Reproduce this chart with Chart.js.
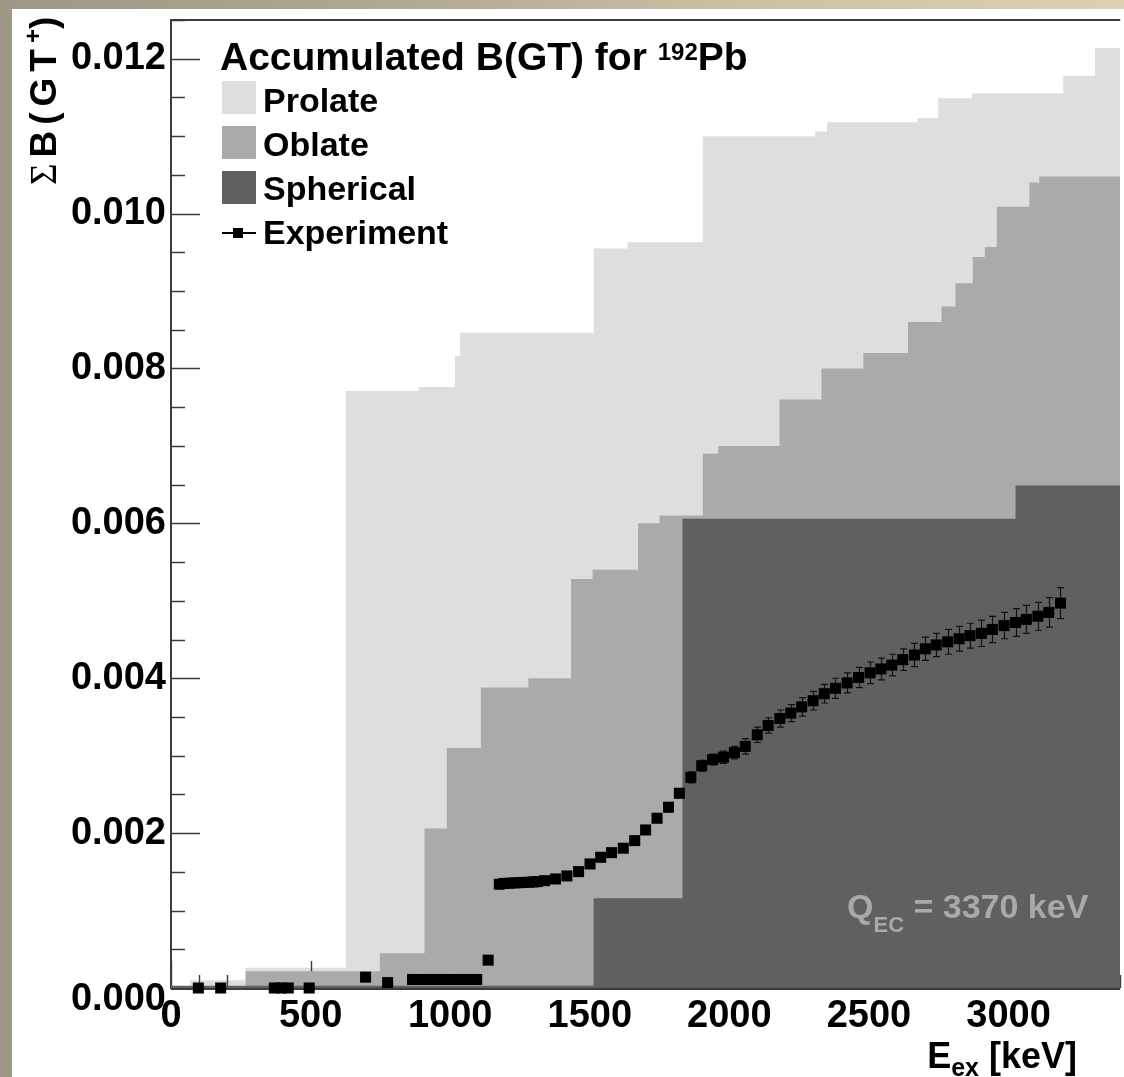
<!DOCTYPE html>
<html>
<head>
<meta charset="utf-8">
<title>Accumulated B(GT) for 192Pb</title>
<script src="https://cdn.jsdelivr.net/npm/chart.js@4.4.1/dist/chart.umd.min.js"></script>
<style>
  html, body { margin: 0; padding: 0; overflow: hidden; }
  body {
    width: 1124px; height: 1077px; position: relative;
    background: #9d9886;
    font-family: "Liberation Sans", Arial, Helvetica, sans-serif;
    font-weight: bold; color: #000;
  }
  #topband {
    position: absolute; left: 0; top: 0; width: 1124px; height: 9px;
    background: linear-gradient(90deg, #9c9786 0%, #b1a893 35%, #cfc3a7 70%, #ddd0b4 100%);
  }
  #panel { position: absolute; left: 12px; top: 9px; width: 1112px; height: 1068px; background: #fff; }
  #wrap { position: absolute; left: 0; top: 0; width: 1128px; height: 1077px; }
  canvas { display: block; }
  .txt { position: absolute; white-space: nowrap; line-height: 1; }
  .sup, .sub { position: relative; }
  .swatch { position: absolute; width: 34px; height: 33px; }
</style>
</head>
<body>
<div id="topband"></div>
<div id="panel"></div>
<div id="wrap"><canvas id="bgt" width="1128" height="1077"></canvas></div>

<!-- axis titles -->
<div class="txt" id="ytitle" style="left:25px; top:185px; font-size:37px; letter-spacing:6px;
     transform-origin:left top; transform:rotate(-90deg);"><span style="font-family:'Liberation Serif','DejaVu Serif',serif; font-weight:normal;">&Sigma;</span>B(GT<span class="sup" style="font-size:24px; top:-15px; letter-spacing:0;">+</span>)</div>
<div class="txt" style="left:777px; width:300px; text-align:right; top:1038px; font-size:36px;">E<span class="sub" style="font-size:25px; top:8px;">ex</span> [keV]</div>

<!-- legend -->
<div class="txt" style="left:220px; top:37px; font-size:39px;">Accumulated B(GT) for <span class="sup" style="font-size:24px; top:-10px;">192</span>Pb</div>
<div id="legend"></div>

<div class="txt" style="left:847px; top:889px; font-size:34px; color:#a9a9a9;">Q<span class="sub" style="font-size:22px; top:14px;">EC</span> = 3370 keV</div>

<script>
'use strict';

// ── Axes ────────────────────────────────────────────────────────────────────
const X_MIN = 0;
const X_MAX = 3400;
const Y_MIN = 0;
const Y_MAX = 0.0125;
const xTicks = [0, 500, 1000, 1500, 2000, 2500, 3000];
const yTicks = [0, 0.002, 0.004, 0.006, 0.008, 0.010, 0.012];

// ── Theory: accumulated B(GT) step histograms (bin edge keV -> running sum) ─
const prolateE = [0, 68, 267, 627, 887, 1017, 1035, 1514, 1635, 1905, 2307, 2350, 2673, 2748, 2869, 3196, 3310];
const prolateB = [0, 0.00010, 0.00026, 0.00771, 0.00776, 0.00816, 0.00846, 0.00955, 0.00963, 0.01100,
                  0.01106, 0.01118, 0.01123, 0.01149, 0.01155, 0.01178, 0.01214];

const oblateE = [0, 267, 748, 908, 988, 1110, 1280, 1433, 1510, 1673, 1750, 1905, 1960, 2180, 2330,
                 2480, 2640, 2760, 2810, 2872, 2915, 2958, 3075, 3110];
const oblateB = [0, 0.000217, 0.00045, 0.00206, 0.0031, 0.00388, 0.0040, 0.00528, 0.0054, 0.0060,
                 0.0061, 0.0069, 0.0070, 0.0076, 0.0080, 0.0082, 0.0086, 0.0088, 0.0091, 0.00944,
                 0.00957, 0.01009, 0.0104, 0.01048];

const sphericalE = [0, 1514, 1832, 3025];
const sphericalB = [0.00003, 0.00116, 0.00606, 0.00649];

// ── Experiment: accumulated B(GT+) with errors ──────────────────────────────
const expE = [98, 178, 370, 395, 420, 495, 697, 776,
              865, 888, 911, 934, 957, 980, 1003, 1026, 1049, 1072, 1095, 1136,
              1176, 1193, 1211, 1229, 1247, 1265, 1282, 1298, 1312, 1338, 1377, 1418, 1460,
              1501, 1539, 1578, 1620, 1661, 1700, 1741, 1782, 1821, 1862, 1901, 1940, 1979,
              2018, 2057, 2100, 2139, 2181, 2220, 2259, 2300, 2340, 2380, 2422, 2463, 2504,
              2543, 2582, 2621, 2663, 2702, 2741, 2782, 2823, 2862, 2903, 2942, 2984, 3025,
              3064, 3105, 3144, 3186];
const expB = [0, 0, 0, 0, 0, 0, 0.00014, 0.00007,
              0.00011, 0.00011, 0.00011, 0.00011, 0.00011, 0.00011, 0.00011, 0.00011, 0.00011, 0.00011, 0.00011, 0.00036,
              0.00134, 0.00135, 0.001353, 0.001357, 0.00136, 0.001363, 0.001366, 0.00137, 0.001374, 0.001386, 0.001408, 0.001447, 0.001503,
              0.001602, 0.001688, 0.001748, 0.001805, 0.001903, 0.002041, 0.002192, 0.002335, 0.002515, 0.00272, 0.00287, 0.00295, 0.00298,
              0.00304, 0.00312, 0.00327, 0.00339, 0.00348, 0.00355, 0.00363, 0.00371, 0.00380, 0.00387, 0.00394, 0.00401, 0.00407,
              0.00412, 0.00417, 0.00424, 0.00430, 0.00438, 0.00443, 0.00447, 0.00451, 0.00455, 0.00458, 0.00463, 0.00468, 0.00472,
              0.00476, 0.00480, 0.00485, 0.00497];
const expErr = [0.00001, 0.00001, 0.00001, 0.00001, 0.00001, 0.00001, 0.00002, 0.00002,
                0.00002, 0.00002, 0.00002, 0.00002, 0.00002, 0.00002, 0.00002, 0.00002, 0.00002, 0.00002, 0.00002, 0.00003,
                0.00003, 0.00003, 0.00003, 0.00003, 0.00003, 0.00003, 0.00003, 0.00003, 0.00003, 0.00003, 0.00003, 0.00004, 0.00004,
                0.00004, 0.00004, 0.00004, 0.00005, 0.00005, 0.00005, 0.00005, 0.00006, 0.00006, 0.00007, 0.00007, 0.00007, 0.00008,
                0.00008, 0.00010, 0.00010, 0.00010, 0.00011, 0.00011, 0.00012, 0.00012, 0.00012, 0.00013, 0.00013, 0.00013, 0.00014,
                0.00014, 0.00014, 0.00014, 0.00015, 0.00015, 0.00015, 0.00016, 0.00016, 0.00016, 0.00017, 0.00017, 0.00017, 0.00018,
                0.00018, 0.00018, 0.00019, 0.00020];

// ── Styling ─────────────────────────────────────────────────────────────────
const FONT = '"Liberation Sans", Arial, Helvetica, sans-serif';
const COLORS = { Prolate: '#dedede', Oblate: '#aaaaaa', Spherical: '#606060' };
const AXIS_COLOR = '#3c3c3c';

/** Turn bin edges + running sums into step points closed at X_MAX. */
function stepPoints(edges, sums) {
  const pts = edges.map(function (e, i) { return { x: e, y: sums[i] }; });
  pts.push({ x: X_MAX, y: sums[sums.length - 1] });
  return pts;
}

function histDataset(label, edges, sums, order) {
  return {
    label: label,
    data: stepPoints(edges, sums),
    stepped: true,
    fill: 'origin',
    backgroundColor: COLORS[label],
    borderColor: 'rgba(0,0,0,0)',
    borderWidth: 0,
    pointRadius: 0,
    order: order,
  };
}

const datasets = [
  histDataset('Prolate', prolateE, prolateB, 3),
  histDataset('Oblate', oblateE, oblateB, 2),
  histDataset('Spherical', sphericalE, sphericalB, 1),
  {
    type: 'scatter',
    label: 'Experiment',
    data: expE.map(function (e, i) { return { x: e, y: expB[i] }; }),
    pointStyle: 'rect',
    pointRadius: 7.8,
    backgroundColor: '#000',
    borderWidth: 0,
    showLine: false,
    clip: false,
    order: 0,
  },
];

// Axis tick marks point inward; ROOT draws them with the first histogram,
// so later fills cover them.
const innerTicks = {
  id: 'innerTicks',
  afterDatasetDraw(chart, args) {
    if (chart.data.datasets[args.index].label !== 'Prolate') return;
    const { ctx, chartArea: a, scales: { x, y } } = chart;
    ctx.save();
    ctx.strokeStyle = AXIS_COLOR;
    ctx.lineWidth = 1.4;
    ctx.beginPath();
    for (let v = 0; v <= X_MAX; v += 100) {
      const px = Math.round(x.getPixelForValue(v)) + 0.5;
      const len = v % 500 === 0 ? 27 : 13;
      ctx.moveTo(px, a.bottom);
      ctx.lineTo(px, a.bottom - len);
    }
    for (let i = 0; i <= 25; i++) {
      const v = i * 0.0005;
      const py = Math.round(y.getPixelForValue(v)) + 0.5;
      const len = i % 4 === 0 ? 29 : 14;
      ctx.moveTo(a.left, py);
      ctx.lineTo(a.left + len, py);
    }
    ctx.stroke();
    // top of frame
    ctx.lineWidth = 2;
    ctx.beginPath();
    ctx.moveTo(a.left, a.top);
    ctx.lineTo(a.right, a.top);
    ctx.stroke();
    ctx.restore();
  },
};

// Bottom axis line sits over the fills but under the data points.
const bottomAxis = {
  id: 'bottomAxis',
  afterDatasetDraw(chart, args) {
    if (chart.data.datasets[args.index].label !== 'Spherical') return;
    const { ctx, chartArea: a } = chart;
    ctx.save();
    ctx.strokeStyle = AXIS_COLOR;
    ctx.lineWidth = 2;
    ctx.beginPath();
    ctx.moveTo(a.left, a.bottom + 1);
    ctx.lineTo(a.right, a.bottom + 1);
    ctx.stroke();
    ctx.restore();
  },
};

// Vertical error bars with small end caps on the experimental points.
const errorBars = {
  id: 'errorBars',
  beforeDatasetDraw(chart, args) {
    if (chart.data.datasets[args.index].label !== 'Experiment') return;
    const { ctx, scales: { x, y } } = chart;
    ctx.save();
    ctx.strokeStyle = '#111';
    ctx.lineWidth = 1.2;
    ctx.beginPath();
    expE.forEach(function (e, i) {
      const px = Math.round(x.getPixelForValue(e)) + 0.5;
      const lo = y.getPixelForValue(expB[i] - expErr[i]);
      const hi = y.getPixelForValue(expB[i] + expErr[i]);
      ctx.moveTo(px, lo); ctx.lineTo(px, hi);
      ctx.moveTo(px - 3.5, lo); ctx.lineTo(px + 3.5, lo);
      ctx.moveTo(px - 3.5, hi); ctx.lineTo(px + 3.5, hi);
    });
    ctx.stroke();
    ctx.restore();
  },
};

Chart.defaults.font.family = FONT;
Chart.defaults.color = '#000';

new Chart(document.getElementById('bgt'), {
  type: 'line',
  data: { datasets: datasets },
  options: {
    responsive: false,
    animation: false,
    events: [],
    layout: { padding: { top: 20, right: 0, bottom: 0, left: 0 } },
    plugins: { legend: { display: false }, tooltip: { enabled: false } },
    scales: {
      x: {
        type: 'linear',
        min: X_MIN,
        max: X_MAX,
        grid: { display: false, drawTicks: false },
        border: { display: false },
        afterBuildTicks: function (s) { s.ticks = xTicks.map(function (v) { return { value: v }; }); },
        afterFit: function (s) { s.height = 89; },
        ticks: {
          padding: 6,
          maxRotation: 0,
          font: { size: 38, weight: 'bold' },
          callback: function (v) { return String(v); },
        },
      },
      y: {
        type: 'linear',
        min: Y_MIN,
        max: Y_MAX,
        grid: { display: false, drawTicks: false },
        border: { display: true, color: AXIS_COLOR, width: 2 },
        afterBuildTicks: function (s) { s.ticks = yTicks.map(function (v) { return { value: v }; }); },
        afterFit: function (s) { s.width = 171; },
        ticks: {
          padding: 5,
          // short line height: the two-line zero label drops about half a line
          font: { size: 38, weight: 'bold', lineHeight: 0.6 },
          callback: function (v) {
            const s = Number(v).toFixed(3);
            return v === 0 ? ['', s] : s;
          },
        },
      },
    },
  },
  plugins: [innerTicks, bottomAxis, errorBars],
});

// ── Legend (HTML, mirrors dataset colours) ──────────────────────────────────
(function buildLegend() {
  const host = document.getElementById('legend');
  const rows = ['Prolate', 'Oblate', 'Spherical', 'Experiment'];
  rows.forEach(function (name, i) {
    const base = 112 + i * 44;     // text baseline
    if (COLORS[name]) {
      const sw = document.createElement('div');
      sw.className = 'swatch';
      sw.style.left = '222px';
      sw.style.top = (81 + i * 45) + 'px';
      sw.style.background = COLORS[name];
      host.appendChild(sw);
    } else {
      const line = document.createElement('div');
      line.style.cssText = 'position:absolute;left:222px;top:232px;width:34px;height:2px;background:#000;';
      const mk = document.createElement('div');
      mk.style.cssText = 'position:absolute;left:233px;top:228px;width:10px;height:10px;background:#000;';
      host.appendChild(line);
      host.appendChild(mk);
    }
    const t = document.createElement('div');
    t.className = 'txt';
    t.style.left = '263px';
    t.style.top = (base - 29) + 'px';
    t.style.fontSize = '34px';
    t.textContent = name;
    host.appendChild(t);
  });
})();
</script>
</body>
</html>
